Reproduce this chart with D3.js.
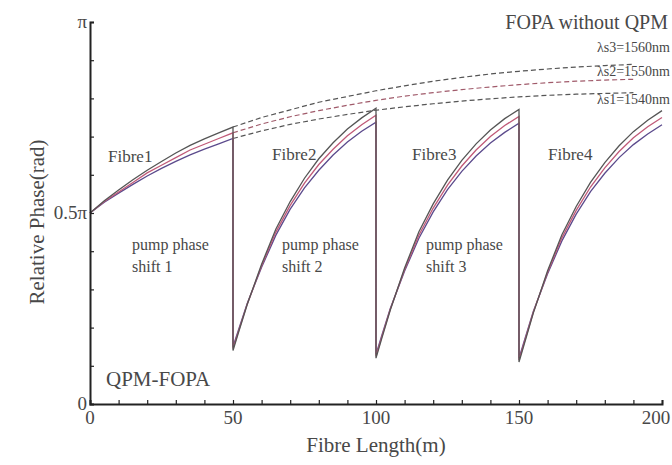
<!DOCTYPE html>
<html>
<head>
<meta charset="utf-8">
<script src="https://cdn.jsdelivr.net/npm/d3@7"></script>
<style>
  body { margin: 0; background: #fff; }
  svg text { font-family: "Liberation Serif", "DejaVu Serif", serif; fill: #484848; }
</style>
</head>
<body>
<svg id="chart" width="672" height="465"></svg>
<script>
// relative phase values in units of pi
const fibre1X = [0, 5, 10, 15, 20, 25, 30, 35, 40, 45, 50];
const fibre1S1 = [0.5, 0.528, 0.552, 0.575, 0.597, 0.617, 0.635, 0.652, 0.667, 0.681, 0.695];
const fibre1S2 = [0.5, 0.530, 0.555, 0.580, 0.605, 0.625, 0.645, 0.665, 0.680, 0.695, 0.710];
const fibre1S3 = [0.5, 0.532, 0.560, 0.587, 0.612, 0.635, 0.657, 0.677, 0.694, 0.710, 0.725];

// offsets inside fibres 2-4 (m from fibre start)
const segOffsets = [0, 2, 5, 10, 15, 20, 25, 30, 35, 40, 45, 50];
const fibreStarts = [50, 100, 150];
const fibre2S1 = [0.150, 0.196, 0.264, 0.358, 0.442, 0.510, 0.566, 0.612, 0.652, 0.686, 0.714, 0.738];
const fibre2S2 = [0.145, 0.192, 0.262, 0.362, 0.450, 0.520, 0.578, 0.627, 0.667, 0.702, 0.731, 0.756];
const fibre2S3 = [0.140, 0.189, 0.261, 0.366, 0.458, 0.530, 0.591, 0.642, 0.684, 0.720, 0.749, 0.774];
const fibre3S1 = [0.130, 0.179, 0.250, 0.348, 0.434, 0.503, 0.561, 0.609, 0.649, 0.683, 0.711, 0.735];
const fibre3S2 = [0.125, 0.175, 0.248, 0.352, 0.442, 0.513, 0.573, 0.623, 0.665, 0.700, 0.729, 0.753];
const fibre3S3 = [0.120, 0.171, 0.246, 0.356, 0.451, 0.524, 0.586, 0.638, 0.681, 0.717, 0.747, 0.771];
const fibre4S1 = [0.120, 0.169, 0.242, 0.341, 0.427, 0.497, 0.556, 0.604, 0.645, 0.679, 0.707, 0.731];
const fibre4S2 = [0.115, 0.165, 0.240, 0.345, 0.435, 0.507, 0.568, 0.618, 0.661, 0.697, 0.726, 0.750];
const fibre4S3 = [0.110, 0.161, 0.238, 0.349, 0.443, 0.517, 0.580, 0.632, 0.676, 0.713, 0.743, 0.768];

// FOPA without QPM (dashed)
const dashX = [50, 60, 70, 80, 90, 100, 110, 120, 130, 140, 150, 160, 170, 180, 190];
const dashS1 = [0.695, 0.715, 0.732, 0.746, 0.758, 0.769, 0.778, 0.786, 0.793, 0.799, 0.804, 0.808, 0.811, 0.813, 0.815];
const dashS2 = [0.710, 0.733, 0.752, 0.768, 0.782, 0.795, 0.806, 0.815, 0.823, 0.830, 0.836, 0.841, 0.845, 0.848, 0.850];
const dashS3 = [0.725, 0.750, 0.770, 0.790, 0.805, 0.820, 0.833, 0.845, 0.855, 0.864, 0.871, 0.877, 0.882, 0.886, 0.889];

const seriesNames = ["λs1=1540nm", "λs2=1550nm", "λs3=1560nm"];
const seriesColors = ["#5b4a8c", "#c05a78", "#555555"];
const xTicks = [0, 50, 100, 150, 200];
const yTickLabels = [[0, "0"], [0.5, "0.5π"], [1, "π"]];

const svg = d3.select("#chart");
const x = d3.scaleLinear().domain([0, 200]).range([90, 662]);
const y = d3.scaleLinear().domain([0, 1]).range([404, 22]);

const line = d3.line().x(d => x(d[0])).y(d => y(d[1]));

// solid QPM curves, including the vertical drops at each phase shift
const solid = [
  [fibre1S1, fibre2S1, fibre3S1, fibre4S1],
  [fibre1S2, fibre2S2, fibre3S2, fibre4S2],
  [fibre1S3, fibre2S3, fibre3S3, fibre4S3]
].map(parts => {
  let pts = fibre1X.map((v, i) => [v, parts[0][i]]);
  fibreStarts.forEach((s, k) => {
    pts = pts.concat(segOffsets.map((o, i) => [s + o, parts[k + 1][i]]));
  });
  return pts;
});

const dashed = [dashS1, dashS2, dashS3].map(arr => dashX.map((v, i) => [v, arr[i]]));

svg.append("g").selectAll("path")
  .data(dashed)
  .join("path")
  .attr("d", line)
  .attr("fill", "none")
  .attr("stroke", (d, i) => i === 1 ? "#a05a6a" : "#555")
  .attr("stroke-width", 1.2)
  .attr("stroke-dasharray", "5,3");

svg.append("g").selectAll("path")
  .data(solid)
  .join("path")
  .attr("d", line)
  .attr("fill", "none")
  .attr("stroke", (d, i) => seriesColors[i])
  .attr("stroke-width", 1.3);

// axes
const xAxis = d3.axisBottom(x).tickValues(d3.range(0, 201, 10)).tickSize(-4).tickFormat("");
const gx = svg.append("g").attr("transform", "translate(0,404)").call(xAxis);
const yAxis = d3.axisLeft(y).tickValues(d3.range(0, 1.01, 0.1)).tickSize(-4).tickFormat("");
const gy = svg.append("g").attr("transform", "translate(90,0)").call(yAxis);
[gx, gy].forEach(g => {
  g.select(".domain").attr("stroke", "#222").attr("stroke-width", 2);
  g.selectAll(".tick line").attr("stroke", "#222").attr("stroke-width", 1.2);
});

svg.append("g").selectAll("text")
  .data(xTicks)
  .join("text")
  .attr("x", d => d === 200 ? x(d) - 6 : x(d))
  .attr("y", 424)
  .attr("text-anchor", "middle")
  .attr("font-size", 19)
  .text(d => d);

svg.append("g").selectAll("text")
  .data(yTickLabels)
  .join("text")
  .attr("x", 87)
  .attr("y", d => y(d[0]) + 6)
  .attr("text-anchor", "end")
  .attr("font-size", 19)
  .text(d => d[1]);

svg.append("text")
  .attr("x", (x(0) + x(200)) / 2)
  .attr("y", 452)
  .attr("text-anchor", "middle")
  .attr("font-size", 21)
  .text("Fibre Length(m)");

svg.append("text")
  .attr("transform", "translate(44,222) rotate(-90)")
  .attr("text-anchor", "middle")
  .attr("font-size", 21)
  .text("Relative Phase(rad)");

// annotations
svg.append("text").attr("x", 668).attr("y", 29).attr("text-anchor", "end")
  .attr("font-size", 20).text("FOPA without QPM");

const lamY = [104, 76, 52];
svg.append("g").selectAll("text")
  .data(seriesNames)
  .join("text")
  .attr("x", 670)
  .attr("y", (d, i) => lamY[i])
  .attr("text-anchor", "end")
  .attr("font-size", 14)
  .text(d => d);

const fibreLabels = ["Fibre1", "Fibre2", "Fibre3", "Fibre4"];
const fibreLabelX = [108, 272, 412, 548];
svg.append("g").selectAll("text")
  .data(fibreLabels)
  .join("text")
  .attr("x", (d, i) => fibreLabelX[i])
  .attr("y", (d, i) => i === 0 ? 162 : 160)
  .attr("font-size", 17)
  .text(d => d);

const shiftX = [132, 282, 426];
shiftX.forEach((px, i) => {
  const t = svg.append("text").attr("font-size", 16);
  t.append("tspan").attr("x", px).attr("y", 250).text("pump phase");
  t.append("tspan").attr("x", px).attr("y", 272).text("shift " + (i + 1));
});

svg.append("text").attr("x", 106).attr("y", 386).attr("font-size", 21).text("QPM-FOPA");
</script>
</body>
</html>
